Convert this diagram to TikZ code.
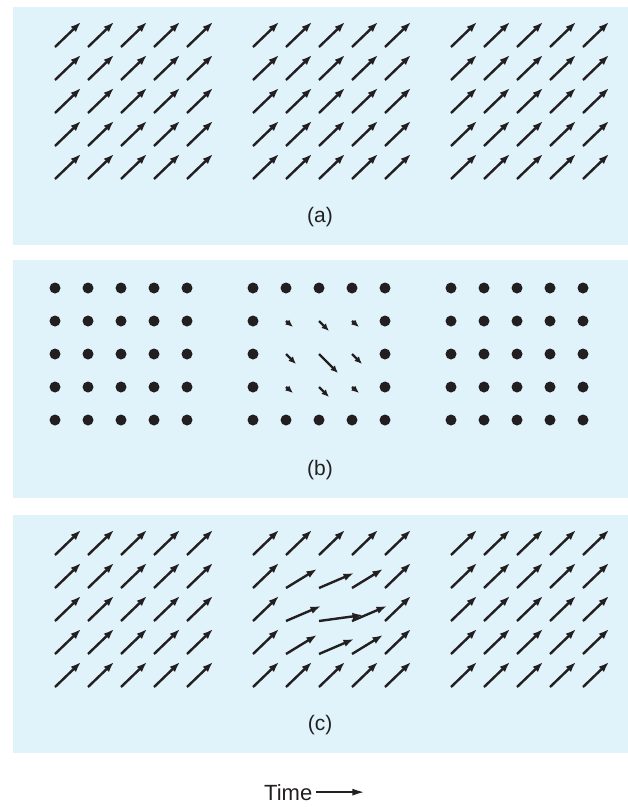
\documentclass[tikz,border=0pt]{standalone}
\usepackage{fontspec}
\setmainfont{Liberation Sans}
\usepackage{xcolor}
\usetikzlibrary{arrows.meta,positioning}
\definecolor{panelblue}{RGB}{224,242,250}
\definecolor{inkblack}{RGB}{35,31,32}

\begin{document}
\begin{tikzpicture}[
    x=1pt, y=-1pt,
    panel/.style={fill=panelblue, draw=none},
    vec/.style={-{Latex[length=10.5pt,width=7.5pt]}, line width=2.4pt, draw=inkblack, fill=inkblack},
    diffvec/.style={-{Latex[length=7.5pt,width=6.5pt]}, line width=2.4pt, draw=inkblack, fill=inkblack},
    spot/.style={fill=inkblack, draw=none},
    caption/.style={font=\fontsize{21}{25}\selectfont, anchor=base, inner sep=0pt, text=inkblack},
    timearrow/.style={-{Latex[length=12pt,width=7pt]}, line width=1.8pt, draw=inkblack}
]
\useasboundingbox (0,0) rectangle (628,807);

% the three panels
\fill[panel] (13,7)   rectangle (628,245);
\fill[panel] (13,260) rectangle (628,498);
\fill[panel] (13,515) rectangle (628,753);

% (a) uniform field in all three groups
\foreach \gx in {55,253,451}
  \foreach \i in {0,...,4}
    \foreach \j in {0,...,4}
      \draw[vec] (\gx+33*\i, 47+33*\j) -- ++(26,-25);

% (b) difference: dots, with small vectors in the middle group
\foreach \gx in {55,451}
  \foreach \i in {0,...,4}
    \foreach \j in {0,...,4}
      \fill[spot] (\gx+33*\i, 288+33*\j) circle (5.5);
\foreach \i in {0,...,4} {
  \fill[spot] (253+33*\i, 288) circle (5.5);
  \fill[spot] (253+33*\i, 420) circle (5.5);
}
\foreach \j in {1,2,3} {
  \fill[spot] (253, 288+33*\j) circle (5.5);
  \fill[spot] (385, 288+33*\j) circle (5.5);
}
\foreach \i/\j/\dx/\dy in {1/1/7/6, 2/1/10/10, 3/1/7/6,
                           1/2/10/10, 2/2/19/19, 3/2/10/10,
                           1/3/7/6, 2/3/10/10, 3/3/7/6}
  \draw[diffvec] (253+33*\i, 288+33*\j) -- ++(\dx,\dy);

% (c) uniform field plus the disturbance
\foreach \gx in {55,451}
  \foreach \i in {0,...,4}
    \foreach \j in {0,...,4}
      \draw[vec] (\gx+33*\i, 555+33*\j) -- ++(26,-25);
\foreach \i in {0,...,4} {
  \draw[vec] (253+33*\i, 555) -- ++(26,-25);
  \draw[vec] (253+33*\i, 687) -- ++(26,-25);
}
\foreach \j in {1,2,3} {
  \draw[vec] (253, 555+33*\j) -- ++(26,-25);
  \draw[vec] (385, 555+33*\j) -- ++(26,-25);
}
\foreach \i/\j/\dx/\dy in {1/1/5/6, 2/1/9/10, 3/1/5/6,
                           1/2/9/10, 2/2/18/19, 3/2/9/10,
                           1/3/5/6, 2/3/9/10, 3/3/5/6}
  \draw[vec] (253+33*\i, 555+33*\j) -- ++(26+\dx,-25+\dy);

% captions
\node[caption] (capa) at (320,222) {(a)};
\node[caption] (capb) at (320,475) {(b)};
\node[caption] (capc) at (320,730) {(c)};

% time axis
\node[caption, anchor=base west, font=\fontsize{22}{26}\selectfont] (time) at (264,800) {Time};
\coordinate[right=52pt of time] (timeend);
\draw[timearrow] ([xshift=4pt]time.east) -- (timeend);
\end{tikzpicture}
\end{document}
